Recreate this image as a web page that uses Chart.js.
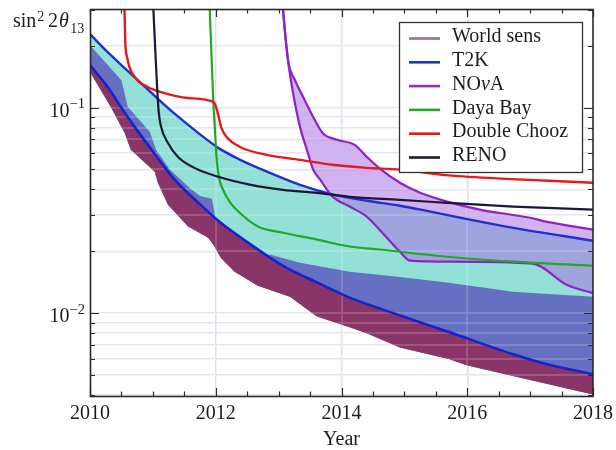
<!DOCTYPE html>
<html>
<head>
<meta charset="utf-8">
<script src="https://cdn.jsdelivr.net/npm/chart.js@4.4.1/dist/chart.umd.min.js"></script>
<style>
  html, body { margin: 0; padding: 0; background: #ffffff; }
  #wrap { width: 616px; height: 450px; }
</style>
</head>
<body>
<div id="wrap"><canvas id="c" width="616" height="450"></canvas></div>
<script>
// ---- sensitivity curves: year vs sin^2(2 theta_13) ----
// World sensitivity band, lower edge
const worldLowYears = [2010.0, 2010.32, 2010.55, 2010.65, 2011.03, 2011.08, 2011.24, 2011.56, 2011.88, 2011.98, 2012.08, 2012.30, 2012.67, 2013.18, 2013.61, 2014.13, 2014.40, 2014.93, 2015.72, 2015.99, 2016.95, 2018.0];
const worldLowVals  = [0.149, 0.102, 0.0754, 0.0623, 0.0488, 0.0431, 0.0337, 0.0264, 0.0233, 0.0211, 0.0186, 0.0159, 0.0136, 0.0120, 0.00964, 0.00853, 0.00797, 0.00681, 0.00596, 0.00557, 0.00477, 0.00402];
// World sensitivity band, upper edge
const worldTopYears = [2010.0, 2010.50, 2010.60, 2010.95, 2011.05, 2011.27, 2011.59, 2011.75, 2011.94, 2012.0, 2012.30, 2012.65, 2012.86, 2013.34, 2014.13, 2014.93, 2015.68, 2016.73, 2018.0];
const worldTopVals  = [0.201, 0.136, 0.101, 0.0764, 0.0623, 0.0500, 0.0405, 0.0372, 0.0360, 0.0284, 0.0200, 0.0170, 0.0193, 0.0176, 0.0159, 0.0150, 0.0141, 0.0127, 0.0120];
// T2K band
const t2kLowYears  = [2010.0, 2010.29, 2010.49, 2010.71, 2011.03, 2011.35, 2011.72, 2012.08, 2012.49, 2013.07, 2013.61, 2014.13, 2014.66, 2015.20, 2015.72, 2016.73, 2017.27, 2018.0];
const t2kLowVals   = [0.161, 0.125, 0.1008, 0.0806, 0.0595, 0.0445, 0.0345, 0.0275, 0.0223, 0.0170, 0.0141, 0.0119, 0.0104, 0.00912, 0.00806, 0.00631, 0.00564, 0.00504];
const t2kHighYears = [2010.0, 2010.29, 2010.60, 2011.03, 2011.35, 2011.72, 2012.04, 2012.39, 2012.82, 2013.34, 2013.87, 2014.41, 2014.93, 2015.30, 2016.04, 2016.73, 2018.0];
const t2kHighVals  = [0.228, 0.185, 0.151, 0.114, 0.0932, 0.0754, 0.0637, 0.0557, 0.0487, 0.0421, 0.0377, 0.0352, 0.0333, 0.0317, 0.0285, 0.0260, 0.0225];
// NOvA band
const novaHighYears = [2013.04, 2013.07, 2013.15, 2013.26, 2013.39, 2013.55, 2013.70, 2013.93, 2014.21, 2014.40, 2014.61, 2014.93, 2015.25, 2015.68, 2016.20, 2017.0, 2017.27, 2018.0];
const novaHighVals  = [0.40, 0.30, 0.170, 0.136, 0.1127, 0.0901, 0.0753, 0.0697, 0.0659, 0.0577, 0.0505, 0.0431, 0.0385, 0.0349, 0.0319, 0.0291, 0.0278, 0.0255];
const novaLowYears  = [2013.04, 2013.07, 2013.15, 2013.23, 2013.34, 2013.45, 2013.55, 2013.66, 2013.86, 2014.13, 2014.40, 2014.66, 2014.93, 2015.09, 2015.72, 2017.04, 2017.59, 2018.0];
const novaLowVals   = [0.40, 0.30, 0.170, 0.1178, 0.0806, 0.0623, 0.0499, 0.0446, 0.0369, 0.0330, 0.0295, 0.0244, 0.0199, 0.0180, 0.0178, 0.0174, 0.0137, 0.0125];
// Reactor experiments
const dybYears = [2011.89, 2011.96, 2011.99, 2012.01, 2012.05, 2012.13, 2012.23, 2012.38, 2012.67, 2013.07, 2013.61, 2014.13, 2014.61, 2015.68, 2016.73, 2018.0];
const dybVals  = [0.40, 0.109, 0.0753, 0.0589, 0.0461, 0.0390, 0.0345, 0.0308, 0.0264, 0.0246, 0.0228, 0.0211, 0.0204, 0.0188, 0.0178, 0.0170];
const dcYears  = [2010.54, 2010.56, 2010.59, 2010.71, 2010.92, 2011.13, 2011.56, 2011.96, 2012.01, 2012.09, 2012.17, 2012.38, 2012.81, 2013.34, 2013.86, 2014.40, 2014.93, 2015.70, 2016.70, 2018.0];
const dcVals   = [0.40, 0.213, 0.176, 0.141, 0.126, 0.119, 0.1114, 0.1066, 0.0997, 0.0797, 0.0721, 0.0645, 0.0589, 0.0557, 0.0527, 0.0509, 0.0499, 0.0468, 0.0449, 0.0431];
const renoYears = [2010.99, 2011.02, 2011.09, 2011.13, 2011.24, 2011.40, 2011.66, 2012.04, 2012.54, 2013.07, 2013.61, 2014.13, 2014.93, 2015.68, 2016.73, 2018.0];
const renoVals  = [0.40, 0.25, 0.0975, 0.0809, 0.0673, 0.0575, 0.0509, 0.0461, 0.0422, 0.0398, 0.0385, 0.0368, 0.0356, 0.0344, 0.0330, 0.0319];

// ---- legend ----
const seriesNames  = ['World sens', 'T2K', 'NOνA', 'Daya Bay', 'Double Chooz', 'RENO'];
const seriesColors = ['#9c6a8c', '#2133cc', '#9130c2', '#25a825', '#e01c1c', '#1f1a2a'];

// ---- axes ----
const yearTicks = [2010, 2012, 2014, 2016, 2018];
const halfYearTicks = [2010.5, 2011, 2011.5, 2012.5, 2013, 2013.5, 2014.5, 2015, 2015.5, 2016.5, 2017, 2017.5];
const decadeTicks = [0.1, 0.01];
const decadeExps = [-1, -2];
const minorLogTicks = [0.004, 0.005, 0.006, 0.007, 0.008, 0.009, 0.02, 0.03, 0.04, 0.05, 0.06, 0.07, 0.08, 0.09, 0.2, 0.3];
const axisTitleX = 'Year';

const SERIF = '"Liberation Serif", "Times New Roman", serif';
const AXIS = '#2a2a2a';
const TEXT = '#1c1c1c';
const GRID_H = '#dce5eb';
const GRID_V = '#d2dde5';
const CYAN = '#93e0d7';
const SLATE = '#6670c2';
const MAROON = '#8a3568';
const LAVENDER = 'rgba(170,115,230,0.55)';
const BLUE = '#1f30cf';
const PURPLE = '#8f22c0';
const GREEN = '#22a822';
const RED = '#e3191c';
const RENO_C = '#1d1638';
const NONE = 'rgba(0,0,0,0)';

const pts = (xs, ys) => xs.map((x, i) => ({ x: x, y: ys[i] }));
const yGrid = minorLogTicks.concat(decadeTicks).sort((a, b) => a - b);

function font(size, italic) {
  return (italic ? 'italic ' : '') + size + 'px ' + SERIF;
}

// text with Greek letters set in italic
function drawMixed(ctx, text, x, y, size) {
  const runs = [];
  for (const ch of text) {
    const greek = /[\u0370-\u03ff]/.test(ch);
    if (runs.length && runs[runs.length - 1].g === greek) runs[runs.length - 1].t += ch;
    else runs.push({ t: ch, g: greek });
  }
  for (const r of runs) {
    ctx.font = font(size, r.g);
    ctx.fillText(r.t, x, y);
    x += ctx.measureText(r.t).width;
  }
}

const framePlugin = {
  id: 'frame',
  // faint grid showing through the filled bands (runs after the filler)
  beforeDatasetsDraw(chart) {
    const { ctx, chartArea: ca } = chart;
    const xs = chart.scales.x, ys = chart.scales.y;
    ctx.save();
    ctx.beginPath();
    ctx.rect(ca.left, ca.top, ca.right - ca.left, ca.bottom - ca.top);
    ctx.clip();
    ctx.strokeStyle = 'rgba(255,255,255,0.22)';
    ctx.lineWidth = 1.5;
    ctx.beginPath();
    yGrid.forEach(v => {
      const p = Math.round(ys.getPixelForValue(v));
      ctx.moveTo(ca.left, p); ctx.lineTo(ca.right, p);
    });
    yearTicks.slice(1, -1).forEach(v => {
      const p = Math.round(xs.getPixelForValue(v));
      ctx.moveTo(p, ca.top); ctx.lineTo(p, ca.bottom);
    });
    ctx.stroke();
    ctx.restore();
  },
  afterDatasetsDraw(chart) {
    const { ctx, chartArea: ca } = chart;
    const xs = chart.scales.x, ys = chart.scales.y;
    ctx.save();
    ctx.strokeStyle = AXIS;
    ctx.lineWidth = 1.2;
    ctx.beginPath();
    const xt = (v, len) => {
      const p = Math.round(xs.getPixelForValue(v)) + 0.5;
      ctx.moveTo(p, ca.bottom); ctx.lineTo(p, ca.bottom - len);
      ctx.moveTo(p, ca.top); ctx.lineTo(p, ca.top + len);
    };
    yearTicks.forEach(v => xt(v, 8));
    halfYearTicks.forEach(v => xt(v, 4.5));
    const yt = (v, len) => {
      const p = Math.round(ys.getPixelForValue(v)) + 0.5;
      ctx.moveTo(ca.left, p); ctx.lineTo(ca.left + len, p);
      ctx.moveTo(ca.right, p); ctx.lineTo(ca.right - len, p);
    };
    decadeTicks.forEach(v => yt(v, 9));
    minorLogTicks.forEach(v => yt(v, 5));
    ctx.stroke();
    ctx.lineWidth = 1.6;
    ctx.strokeRect(ca.left + 0.5, ca.top + 0.5, ca.right - ca.left - 0.5, ca.bottom - ca.top);
    ctx.restore();
  },
  afterDraw(chart) {
    const { ctx, chartArea: ca } = chart;
    const xs = chart.scales.x, ys = chart.scales.y;
    ctx.save();
    ctx.fillStyle = TEXT;
    ctx.textBaseline = 'alphabetic';

    // year labels
    ctx.font = font(20);
    ctx.textAlign = 'center';
    yearTicks.forEach(v => ctx.fillText(String(v), xs.getPixelForValue(v), 419));
    ctx.fillText(axisTitleX, (ca.left + ca.right) / 2, 445);

    // decade labels 10^n
    ctx.textAlign = 'left';
    decadeTicks.forEach((v, i) => {
      const p = ys.getPixelForValue(v);
      const sup = '\u2212' + Math.abs(decadeExps[i]);
      ctx.font = font(14.5);
      const ws = ctx.measureText(sup).width;
      ctx.font = font(20);
      const wb = ctx.measureText('10').width;
      const x0 = ca.left - 5 - ws - wb;
      ctx.fillText('10', x0, p + 9);
      ctx.font = font(14.5);
      ctx.fillText(sup, x0 + wb, p + 0.5);
    });

    // y-axis title: sin^2 2θ_13
    let x = 13;
    ctx.font = font(20);
    ctx.fillText('sin', x, 27);
    x += ctx.measureText('sin').width + 1;
    ctx.font = font(14);
    ctx.fillText('2', x, 21);
    x = 48;
    ctx.font = font(20);
    ctx.fillText('2', x, 27);
    x += ctx.measureText('2').width + 1;
    ctx.font = font(20, true);
    ctx.fillText('θ', x, 27);
    x += ctx.measureText('θ').width + 1.5;
    ctx.font = font(14);
    ctx.fillText('13', x, 33);

    // legend
    const bx = 399.5, by = 22.5, bw = 183, bh = 150;
    ctx.fillStyle = '#ffffff';
    ctx.fillRect(bx, by, bw, bh);
    ctx.strokeStyle = '#333333';
    ctx.lineWidth = 1.3;
    ctx.strokeRect(bx, by, bw, bh);
    ctx.textBaseline = 'middle';
    seriesNames.forEach((name, i) => {
      const ry = 37 + i * 23.8;
      ctx.strokeStyle = seriesColors[i];
      ctx.lineWidth = 2.6;
      ctx.beginPath();
      ctx.moveTo(409, ry + 1.5); ctx.lineTo(440, ry + 1.5);
      ctx.stroke();
      ctx.fillStyle = TEXT;
      drawMixed(ctx, name, 452, ry, 20);
    });
    ctx.restore();
  }
};

const base = { pointRadius: 0, pointHoverRadius: 0, tension: 0 };
const smooth = { cubicInterpolationMode: 'monotone' };

const datasets = [
  Object.assign({}, base, { label: 'World sens floor', data: pts(worldLowYears, worldLowVals), borderColor: NONE, borderWidth: 0, fill: false, order: 9 }),
  Object.assign({}, base, smooth, { label: 'T2K upper', data: pts(t2kHighYears, t2kHighVals), borderColor: BLUE, borderWidth: 2.4, fill: 0, backgroundColor: CYAN, order: 8 }),
  Object.assign({}, base, { label: 'World sens top', data: pts(worldTopYears, worldTopVals), borderColor: NONE, borderWidth: 0, fill: 0, backgroundColor: SLATE, order: 7 }),
  Object.assign({}, base, smooth, { label: 'T2K lower', data: pts(t2kLowYears, t2kLowVals), borderColor: '#1424cc', borderWidth: 2.6, fill: 0, backgroundColor: MAROON, order: 6 }),
  Object.assign({}, base, smooth, { label: 'NOvA lower', data: pts(novaLowYears, novaLowVals), borderColor: PURPLE, borderWidth: 2.2, fill: false, order: 5 }),
  Object.assign({}, base, smooth, { label: 'NOvA upper', data: pts(novaHighYears, novaHighVals), borderColor: PURPLE, borderWidth: 2.2, fill: 4, backgroundColor: LAVENDER, order: 4 }),
  Object.assign({}, base, smooth, { label: 'Daya Bay', data: pts(dybYears, dybVals), borderColor: GREEN, borderWidth: 2.2, fill: false, order: 3 }),
  Object.assign({}, base, smooth, { label: 'Double Chooz', data: pts(dcYears, dcVals), borderColor: RED, borderWidth: 2.4, fill: false, order: 2 }),
  Object.assign({}, base, smooth, { label: 'RENO', data: pts(renoYears, renoVals), borderColor: RENO_C, borderWidth: 2.2, fill: false, order: 1 })
];

new Chart(document.getElementById('c'), {
  type: 'line',
  data: { datasets: datasets },
  options: {
    responsive: false,
    animation: false,
    devicePixelRatio: 1,
    layout: { padding: { left: 90, right: 23, top: 9, bottom: 54 } },
    plugins: {
      legend: { display: false },
      tooltip: { enabled: false },
      filler: { drawTime: 'beforeDatasetsDraw' }
    },
    scales: {
      x: {
        type: 'linear', min: 2010, max: 2018,
        afterBuildTicks: s => { s.ticks = yearTicks.map(v => ({ value: v })); },
        ticks: { display: false },
        grid: {
          drawTicks: false, lineWidth: 1.5,
          color: c => (c.tick && c.tick.value > 2010 && c.tick.value < 2018) ? GRID_V : NONE
        },
        border: { display: false },
        afterFit: s => { s.height = 0; }
      },
      y: {
        type: 'logarithmic', min: 0.00395, max: 0.302,
        afterBuildTicks: s => { s.ticks = yGrid.map(v => ({ value: v })); },
        ticks: { display: false },
        grid: { drawTicks: false, lineWidth: 1.5, color: GRID_H },
        border: { display: false },
        afterFit: s => { s.width = 0; }
      }
    }
  },
  plugins: [framePlugin]
});
</script>
</body>
</html>
